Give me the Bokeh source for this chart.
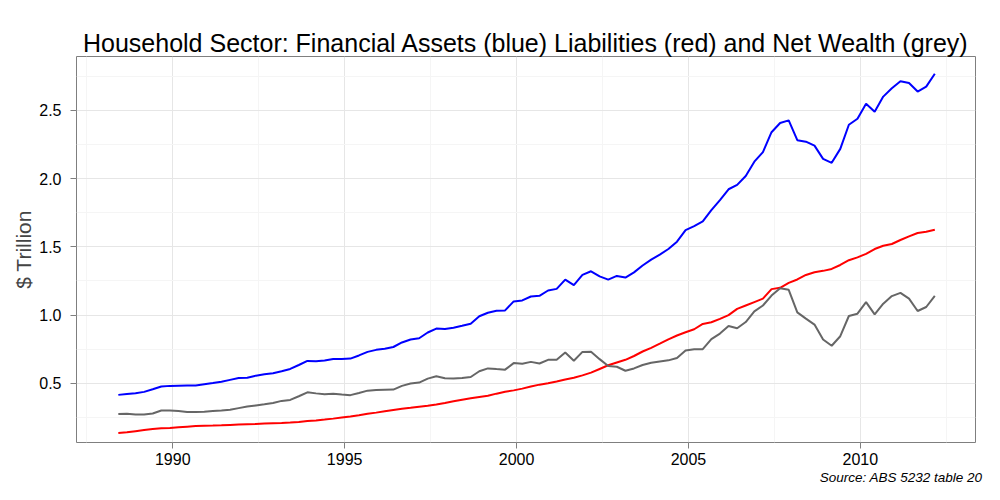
import pandas as pd

from bokeh.embed import file_html
from bokeh.models import FixedTicker, Range1d, Title
from bokeh.plotting import figure
from bokeh.resources import INLINE

# ABS 5232 table 20, household sector, $ trillion, quarterly Jun 1988 - Mar 2012
quarters = pd.period_range("1988Q2", "2012Q1", freq="Q")
years = [q.year + (3 * q.quarter - 1) / 12 for q in quarters]

financial_assets = [
    0.415, 0.422, 0.427, 0.437, 0.456, 0.476, 0.481, 0.482, 0.483, 0.484,
    0.493, 0.502, 0.512, 0.525, 0.538, 0.541, 0.556, 0.566, 0.574, 0.588,
    0.605, 0.634, 0.664, 0.662, 0.667, 0.678, 0.678, 0.681, 0.704, 0.730,
    0.745, 0.753, 0.766, 0.799, 0.821, 0.830, 0.872, 0.901, 0.898, 0.907,
    0.921, 0.937, 0.991, 1.017, 1.032, 1.034, 1.100, 1.107, 1.136, 1.141,
    1.180, 1.192, 1.260, 1.219, 1.294, 1.321, 1.284, 1.260, 1.287, 1.275,
    1.313, 1.363, 1.406, 1.443, 1.484, 1.538, 1.623, 1.652, 1.686, 1.769,
    1.842, 1.922, 1.954, 2.019, 2.124, 2.194, 2.340, 2.408, 2.427, 2.282,
    2.271, 2.242, 2.145, 2.116, 2.218, 2.395, 2.439, 2.548, 2.490, 2.601,
    2.662, 2.713, 2.701, 2.638, 2.674, 2.769,
]

liabilities = [
    0.136, 0.141, 0.149, 0.157, 0.165, 0.170, 0.172, 0.177, 0.182, 0.187,
    0.189, 0.190, 0.192, 0.195, 0.198, 0.200, 0.202, 0.205, 0.207, 0.209,
    0.212, 0.217, 0.224, 0.228, 0.234, 0.241, 0.249, 0.257, 0.266, 0.276,
    0.285, 0.295, 0.305, 0.313, 0.320, 0.328, 0.336, 0.345, 0.356, 0.368,
    0.380, 0.391, 0.400, 0.408, 0.424, 0.438, 0.448, 0.461, 0.476, 0.490,
    0.500, 0.513, 0.527, 0.540, 0.558, 0.578, 0.605, 0.632, 0.652, 0.672,
    0.700, 0.733, 0.760, 0.790, 0.822, 0.850, 0.874, 0.896, 0.935, 0.947,
    0.972, 1.000, 1.045, 1.070, 1.095, 1.120, 1.190, 1.200, 1.236, 1.261,
    1.294, 1.314, 1.324, 1.338, 1.367, 1.402, 1.423, 1.448, 1.484, 1.508,
    1.521, 1.550, 1.577, 1.601, 1.610, 1.625,
]

net_wealth = [
    0.274, 0.276, 0.272, 0.271, 0.279, 0.301, 0.301, 0.296, 0.290, 0.289,
    0.292, 0.296, 0.300, 0.306, 0.318, 0.330, 0.338, 0.346, 0.355, 0.371,
    0.378, 0.405, 0.434, 0.426, 0.419, 0.423, 0.417, 0.413, 0.429, 0.446,
    0.451, 0.453, 0.454, 0.481, 0.498, 0.505, 0.534, 0.551, 0.537, 0.535,
    0.538, 0.546, 0.588, 0.609, 0.604, 0.600, 0.648, 0.643, 0.657, 0.645,
    0.672, 0.672, 0.725, 0.665, 0.730, 0.732, 0.677, 0.626, 0.621, 0.592,
    0.609, 0.634, 0.651, 0.660, 0.668, 0.685, 0.741, 0.750, 0.750, 0.823,
    0.864, 0.920, 0.903, 0.949, 1.027, 1.070, 1.143, 1.197, 1.185, 1.020,
    0.974, 0.930, 0.821, 0.775, 0.845, 0.993, 1.010, 1.095, 1.005, 1.083,
    1.139, 1.163, 1.120, 1.030, 1.059, 1.141,
]

x_ticks = [1990, 1995, 2000, 2005, 2010]
x_tick_labels = ["1990", "1995", "2000", "2005", "2010"]
x_minor = [1987.5, 1992.5, 1997.5, 2002.5, 2007.5, 2012.5]
y_ticks = [0.5, 1.0, 1.5, 2.0, 2.5]
y_tick_labels = ["0.5", "1.0", "1.5", "2.0", "2.5"]
y_minor = [0.25, 0.75, 1.25, 1.75, 2.25, 2.75]

FONT = "Liberation Sans"

p = figure(width=984, height=484,
           output_backend="svg",
           toolbar_location=None,
           x_range=Range1d(1987.2, 2013.35),
           y_range=Range1d(0.066, 2.895),
           min_border_left=76, min_border_right=9,
           min_border_top=56, min_border_bottom=39)

p.title.text = ("Household Sector: Financial Assets (blue) "
                "Liabilities (red) and Net Wealth (grey)")
p.title.align = "center"
p.title.text_font = FONT
p.title.text_font_size = "25px"
p.title.text_font_style = "normal"
p.title.text_color = "black"
p.title.standoff = 0

p.outline_line_color = "#7f7f7f"
p.outline_line_width = 1

p.xaxis.ticker = FixedTicker(ticks=x_ticks, minor_ticks=x_minor)
p.yaxis.ticker = FixedTicker(ticks=y_ticks, minor_ticks=y_minor)
p.xaxis.major_label_overrides = dict(zip(x_ticks, x_tick_labels))
p.yaxis.major_label_overrides = dict(zip(y_ticks, y_tick_labels))

p.axis.axis_line_color = None
p.axis.major_tick_line_color = "#7f7f7f"
p.axis.major_tick_out = 6
p.axis.major_tick_in = 0
p.axis.minor_tick_line_color = None
p.axis.major_label_text_font = FONT
p.axis.major_label_text_font_size = "16px"
p.axis.major_label_text_color = "black"
p.xaxis.major_label_standoff = 4
p.yaxis.major_label_standoff = 9

p.yaxis.axis_label = "$ Trillion"
p.yaxis.axis_label_text_font = FONT
p.yaxis.axis_label_text_font_size = "21px"
p.yaxis.axis_label_text_font_style = "normal"
p.yaxis.axis_label_standoff = 1

p.grid.grid_line_color = "#e6e6e6"
p.grid.minor_grid_line_color = "#f5f5f5"

p.line(years, financial_assets, line_color="#0000ff", line_width=2)
p.line(years, liabilities, line_color="#ff0000", line_width=2)
p.line(years, net_wealth, line_color="#666666", line_width=2)

caption = Title(text="Source: ABS 5232 table 20", align="right",
                text_font=FONT, text_font_size="13.5px",
                text_font_style="italic", text_color="black",
                standoff=0, offset=-7)
p.add_layout(caption, "below")

open("out.html", "w").write(file_html(p, INLINE))
